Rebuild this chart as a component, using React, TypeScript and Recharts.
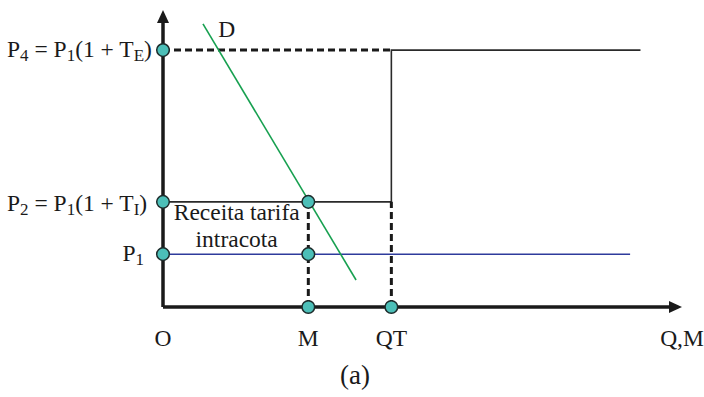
import React from 'react';
import { ComposedChart, Line, Scatter, XAxis, YAxis, ReferenceDot } from 'recharts';

// Price levels (data units, y domain 0..100)
const P1 = 17.8;
const P2 = 35.4;
const P4 = 86.5;
// Quantity positions (x domain 0..100)
const M = 28;
const QT = 44;
const STEP_END = 92;
const WORLD_END = 90;

const xTicks = [0, M, QT, 100];
const xTickLabels = ['O', 'M', 'QT', 'Q,M'];

const yTicks = [P1, P2, P4];
type Seg = [string, boolean];
const yTickLabels: Seg[][] = [
  [['P', false], ['1', true]],
  [['P', false], ['2', true], [' = P', false], ['1', true], ['(1 + T', false], ['I', true], [')', false]],
  [['P', false], ['4', true], [' = P', false], ['1', true], ['(1 + T', false], ['E', true], [')', false]],
];

const demandX = [7.7, 37.2];
const demandY = [95.3, 9.1];

const axisXData = [{ x: 0, y: 0 }, { x: 97.7, y: 0 }];
const axisYData = [{ x: 0, y: 0 }, { x: 0, y: 96 }];
const arrowData = [{ x: 100, y: 0, dir: 'right' }, { x: 0, y: 100, dir: 'up' }];

const tariffStep = [
  { x: 0, y: P2 },
  { x: QT, y: P2 },
  { x: QT, y: P4 },
  { x: STEP_END, y: P4 },
];
const p4Dashed = [{ x: 0, y: P4 }, { x: QT, y: P4 }];
const mDashed = [{ x: M, y: 0 }, { x: M, y: P2 }];
const qtDashed = [{ x: QT, y: 0 }, { x: QT, y: P2 }];
const worldPrice = [{ x: 0, y: P1 }, { x: WORLD_END, y: P1 }];
const demand = demandX.map((x, i) => ({ x, y: demandY[i] }));

const points = [
  { x: 0, y: P4 },
  { x: 0, y: P2 },
  { x: 0, y: P1 },
  { x: M, y: P2 },
  { x: M, y: P1 },
  { x: M, y: 0 },
  { x: QT, y: 0 },
];

const FONT = '"Liberation Serif", "Times New Roman", serif';
const TXT = '#1a1a1a';
const FS = 23.5;
const SUB = 17;

const renderSegs = (segs: Seg[]) =>
  segs.map(([t, sub], i) => {
    const prevSub = i > 0 && segs[i - 1][1];
    let dy = 0;
    if (sub && !prevSub) dy = 4;
    if (!sub && prevSub) dy = -4;
    return (
      <tspan key={i} dy={dy} fontSize={sub ? SUB : FS} style={{ whiteSpace: 'pre' }}>
        {t}
      </tspan>
    );
  });

const XTick = (props: any) => {
  const { x, y, payload } = props;
  const idx = xTicks.indexOf(payload.value);
  return (
    <text x={x} y={y + 39} textAnchor="middle" fontFamily={FONT} fontSize={FS} fill={TXT}>
      {xTickLabels[idx]}
    </text>
  );
};

const YTick = (props: any) => {
  const { y, payload } = props;
  const idx = yTicks.indexOf(payload.value);
  if (idx === 0) {
    return (
      <text x={144} y={y + 7} textAnchor="end" fontFamily={FONT} fill={TXT}>
        {renderSegs(yTickLabels[idx])}
      </text>
    );
  }
  return (
    <text x={7} y={y + (idx === 1 ? 9 : 7)} textAnchor="start" fontFamily={FONT} fill={TXT}>
      {renderSegs(yTickLabels[idx])}
    </text>
  );
};

const ArrowHead = (props: any) => {
  const { cx, cy, payload } = props;
  if (payload.dir === 'right') {
    return <polygon points={`${cx},${cy} ${cx - 13},${cy - 6} ${cx - 13},${cy + 6}`} fill="#1a1a1a" />;
  }
  return <polygon points={`${cx},${cy} ${cx - 6},${cy + 13} ${cx + 6},${cy + 13}`} fill="#1a1a1a" />;
};

const Dot = (props: any) => {
  const { cx, cy } = props;
  return <circle cx={cx} cy={cy} r={6.3} fill="#4CBFB8" stroke="#1d2b2b" strokeWidth={1.5} />;
};

const AxisLabelA = (props: any) => {
  const vb = props.viewBox || { x: 163, y: 307 };
  return (
    <text x={vb.x + 192} y={vb.y + 77} textAnchor="middle" fontFamily={FONT} fontSize={27} fill={TXT}>
      (a)
    </text>
  );
};

export default function App() {
  return (
    <div style={{ position: 'absolute', left: 0, top: 0, width: 704, height: 397, background: '#fff' }}>
      <ComposedChart width={704} height={397} margin={{ top: 10, right: 22, left: 0, bottom: 0 }}>
        <XAxis
          type="number"
          dataKey="x"
          domain={[0, 100]}
          ticks={xTicks}
          axisLine={false}
          tickLine={false}
          tickSize={0}
          tickMargin={0}
          height={90}
          tick={<XTick />}
          interval={0}
          label={<AxisLabelA />}
        />
        <YAxis
          type="number"
          dataKey="y"
          domain={[0, 100]}
          ticks={yTicks}
          axisLine={false}
          tickLine={false}
          tickSize={0}
          tickMargin={0}
          width={163}
          tick={<YTick />}
          interval={0}
        />
        <Line data={worldPrice} dataKey="y" type="linear" stroke="#2E3B9C" strokeWidth={1.5} dot={false} isAnimationActive={false} />
        <Line data={tariffStep} dataKey="y" type="linear" stroke="#2a2a2a" strokeWidth={1.6} dot={false} isAnimationActive={false} />
        <Line data={p4Dashed} dataKey="y" type="linear" stroke="#1a1a1a" strokeWidth={3} strokeDasharray="7 4" dot={false} isAnimationActive={false} />
        <Line data={mDashed} dataKey="y" type="linear" stroke="#1a1a1a" strokeWidth={3} strokeDasharray="7 4" dot={false} isAnimationActive={false} />
        <Line data={qtDashed} dataKey="y" type="linear" stroke="#1a1a1a" strokeWidth={3} strokeDasharray="7 4" dot={false} isAnimationActive={false} />
        <Line data={demand} dataKey="y" type="linear" stroke="#17A050" strokeWidth={1.6} dot={false} isAnimationActive={false} />
        <Line data={axisXData} dataKey="y" type="linear" stroke="#1a1a1a" strokeWidth={3.5} dot={false} isAnimationActive={false} />
        <Line data={axisYData} dataKey="y" type="linear" stroke="#1a1a1a" strokeWidth={3.5} dot={false} isAnimationActive={false} />
        <Scatter data={arrowData} dataKey="y" shape={<ArrowHead />} isAnimationActive={false} />
        <Scatter data={points} dataKey="y" shape={<Dot />} isAnimationActive={false} />
        <ReferenceDot
          x={12.3}
          y={93.6}
          r={0}
          ifOverflow="visible"
          shape={(p: any) => (
            <text x={p.cx} y={p.cy + 8} textAnchor="middle" fontFamily={FONT} fontSize={FS} fill={TXT}>
              D
            </text>
          )}
        />
        <ReferenceDot
          x={14.2}
          y={26.4}
          r={0}
          ifOverflow="visible"
          shape={(p: any) => (
            <text textAnchor="middle" fontFamily={FONT} fontSize={FS} fill={TXT}>
              <tspan x={p.cx} y={p.cy - 8.5}>Receita tarifa</tspan>
              <tspan x={p.cx} y={p.cy + 18}>intracota</tspan>
            </text>
          )}
        />
      </ComposedChart>
    </div>
  );
}
